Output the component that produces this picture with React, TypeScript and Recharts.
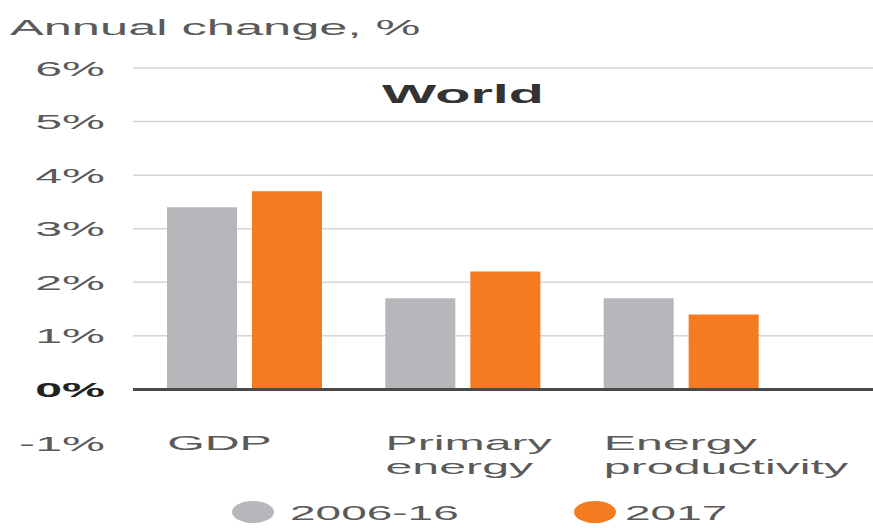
import React from "react";
import {
  BarChart,
  Bar,
  XAxis,
  YAxis,
  CartesianGrid,
  ReferenceLine,
  Legend,
} from "recharts";

const categories = ["GDP", "Primary\nenergy", "Energy\nproductivity"];
const avg2006to16 = [3.4, 1.7, 1.7];
const year2017 = [3.7, 2.2, 1.4];
const yTicks = [-1, 0, 1, 2, 3, 4, 5, 6];
const gridValues = [1, 2, 3, 4, 5, 6];
const seriesNames = ["2006-16", "2017"];

const GREY = "#b6b7ba";
const ORANGE = "#f47b20";
const TEXT = "#5a5a5a";
const FONT = "'Liberation Sans', Arial, sans-serif";
const STRETCH = 2.3;

const data = categories.map((c, i) => ({
  name: c,
  a: avg2006to16[i],
  b: year2017[i],
}));

function Wide({ x, y, anchor = "start", size = 21, weight = 400, fill = TEXT, children }: any) {
  return (
    <text
      transform={`translate(${x},${y}) scale(${STRETCH},1)`}
      textAnchor={anchor}
      fontFamily={FONT}
      fontSize={size}
      fontWeight={weight}
      fill={fill}
    >
      {children}
    </text>
  );
}

function YTick({ x, y, payload }: any) {
  const zero = payload.value === 0;
  return (
    <Wide
      x={x}
      y={y + 7.5}
      anchor="end"
      weight={zero ? 700 : 400}
      fill={zero ? "#222" : TEXT}
    >
      {payload.value}%
    </Wide>
  );
}

function XTick({ x, y, payload }: any) {
  const lines = String(payload.value).split("\n");
  return (
    <g>
      {lines.map((l, i) => (
        <Wide key={i} x={x - 77} y={y + 7 + i * 24}>
          {l}
        </Wide>
      ))}
    </g>
  );
}

function LegendContent() {
  const items = [
    { name: seriesNames[0], color: GREY, cx: 253, tx: 290 },
    { name: seriesNames[1], color: ORANGE, cx: 595, tx: 625 },
  ];
  return (
    <svg width={873} height={40} style={{ display: "block" }}>
      {items.map((it) => (
        <g key={it.name}>
          <ellipse cx={it.cx} cy={24} rx={21} ry={11} fill={it.color} />
          <Wide x={it.tx} y={32} size={20}>
            {it.name}
          </Wide>
        </g>
      ))}
    </svg>
  );
}

export default function App() {
  return (
    <div
      style={{
        position: "absolute",
        left: 0,
        top: 0,
        width: 873,
        height: 528,
        background: "#fff",
      }}
    >
      <BarChart
        width={873}
        height={528}
        data={data}
        margin={{ top: 68, right: 0, left: 0, bottom: 25 }}
        barCategoryGap={32}
        barGap={15}
      >
        <CartesianGrid
          vertical={false}
          horizontalValues={gridValues}
          stroke="#d6d6d6"
          strokeWidth={1.5}
        />
        <XAxis
          dataKey="name"
          axisLine={false}
          tickLine={false}
          tickSize={0}
          tickMargin={0}
          height={60}
          padding={{ left: 2, right: 83 }}
          interval={0}
          tick={<XTick />}
        />
        <YAxis
          domain={[-1, 6]}
          ticks={yTicks}
          interval={0}
          axisLine={false}
          tickLine={false}
          tickSize={0}
          tickMargin={28}
          width={133}
          tick={<YTick />}
        />
        <ReferenceLine y={0} stroke="#4a4a4a" strokeWidth={3} />
        <Bar dataKey="a" name={seriesNames[0]} fill={GREY} isAnimationActive={false} />
        <Bar dataKey="b" name={seriesNames[1]} fill={ORANGE} isAnimationActive={false} />
        <Legend
          verticalAlign="middle"
          align="center"
          content={<LegendContent />}
          wrapperStyle={{ top: 488, left: 0, width: 873, height: 40 }}
        />
      </BarChart>
      <svg
        width={873}
        height={120}
        style={{ position: "absolute", left: 0, top: 0, pointerEvents: "none" }}
      >
        <Wide x={10} y={35} size={22}>
          Annual change, %
        </Wide>
        <Wide x={463} y={103} anchor="middle" size={25} weight={700} fill="#333">
          World
        </Wide>
      </svg>
    </div>
  );
}
